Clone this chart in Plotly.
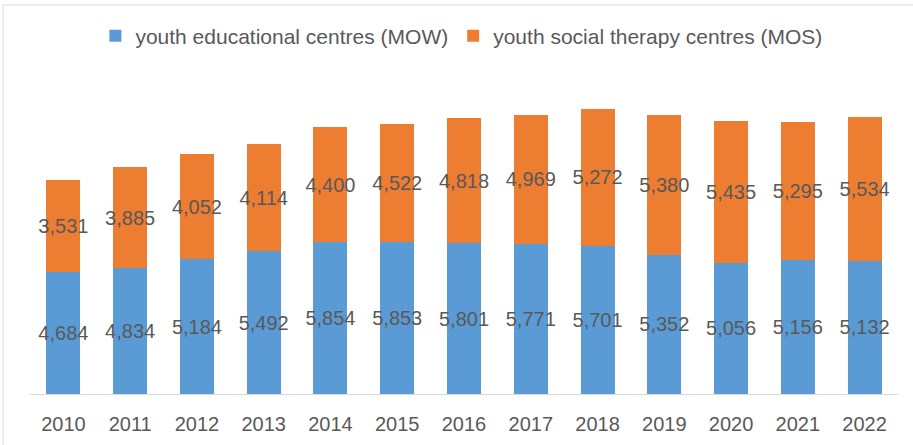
import plotly.graph_objects as go

years = ["2010", "2011", "2012", "2013", "2014", "2015", "2016", "2017", "2018", "2019", "2020", "2021", "2022"]
mow = [4684, 4834, 5184, 5492, 5854, 5853, 5801, 5771, 5701, 5352, 5056, 5156, 5132]
mos = [3531, 3885, 4052, 4114, 4400, 4522, 4818, 4969, 5272, 5380, 5435, 5295, 5534]

FONT = "Liberation Sans"
GRAY = "#595959"

fig = go.Figure()
for vals, name, color in [(mow, "youth educational centres (MOW)", "#5B9BD5"),
                          (mos, "youth social therapy centres (MOS)", "#ED7D31")]:
    fig.add_trace(go.Bar(
        x=years, y=vals, name=name,
        marker=dict(color=color, line=dict(width=0)),
        text=[f"{v:,}" for v in vals], textposition="inside", insidetextanchor="middle",
        textangle=0,
        textfont=dict(family=FONT, size=20, color=GRAY), cliponaxis=False,
        constraintext="none",
    ))

fig.update_layout(
    barmode="stack",
    bargap=0.49,
    width=913, height=445,
    margin=dict(l=30, r=15, t=82, b=51, autoexpand=False),
    paper_bgcolor="white", plot_bgcolor="white",
    font=dict(family=FONT, size=20, color=GRAY),
    uniformtext=dict(minsize=20, mode=False),
    showlegend=True,
    legend=dict(orientation="h", x=0.497, xanchor="center", y=1.147, yanchor="middle",
                font=dict(family=FONT, size=21, color=GRAY), traceorder="normal",
                itemwidth=30),
    xaxis=dict(showline=True, linecolor="#D9D9D9", linewidth=1, ticks="",
               ticklabelstandoff=12, automargin=False,
               tickfont=dict(family=FONT, size=20, color=GRAY), showgrid=False),
    yaxis=dict(range=[0, 12000], visible=False, showgrid=False, automargin=False),
    shapes=[dict(type="rect", xref="paper", yref="paper",
                 x0=-0.031, x1=1.1, y0=-0.4, y1=1.247,
                 line=dict(color="#D9D9D9", width=1), fillcolor="rgba(0,0,0,0)", layer="below")],
)

fig.write_html("out.html", config={"displayModeBar": False},
               post_script="document.body.style.margin='0px';")
